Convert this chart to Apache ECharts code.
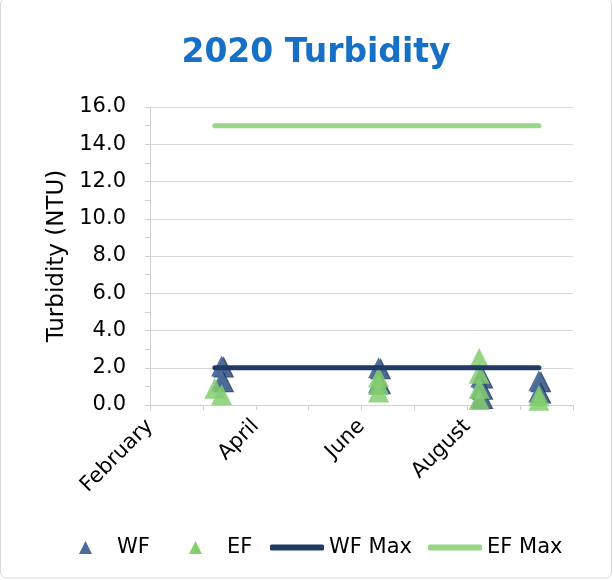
<!DOCTYPE html>
<html>
<head>
<meta charset="utf-8">
<script src="https://cdn.jsdelivr.net/npm/echarts@6/dist/echarts.min.js"></script>
<style>
  html, body { margin: 0; padding: 0; background: #fff; }
  #chart { width: 613px; height: 580px; }
</style>
</head>
<body>
<div id="chart"></div>
<script>
// Sampling dates and turbidity readings (NTU) for 2020
const wfDates  = ['2020-03-14', '2020-03-14', '2020-06-14', '2020-06-14', '2020-08-13', '2020-08-13', '2020-08-13', '2020-09-16', '2020-09-16'];
const wfValues = [2.1, 1.3, 2.0, 1.2, 1.5, 0.9, 0.4, 1.3, 0.7];

const efDates  = ['2020-03-10', '2020-03-14', '2020-06-14', '2020-06-14', '2020-06-14', '2020-08-12', '2020-08-12', '2020-08-12', '2020-08-12', '2020-09-16', '2020-09-16'];
const efValues = [0.9, 0.55, 1.5, 1.1, 0.7, 2.5, 1.7, 0.9, 0.3, 0.5, 0.25];

// Permit limits, drawn across the sampling season
const limitDates = ['2020-03-10', '2020-09-16'];
const wfMax = 2.0;
const efMax = 15.0;

// Axis settings
const axisStart = '2020-02-01';
const dayStep = 31;
const axisSteps = 8;
const yTicks = [0, 2, 4, 6, 8, 10, 12, 14, 16];

const monthNames = ['January', 'February', 'March', 'April', 'May', 'June', 'July',
  'August', 'September', 'October', 'November', 'December'];

function toUTC(s) {
  const p = s.split('-').map(Number);
  return Date.UTC(p[0], p[1] - 1, p[2]);
}
const base = toUTC(axisStart);
function dayOf(s) { return Math.round((toUTC(s) - base) / 86400000); }

const wfPoints = wfDates.map((d, i) => [dayOf(d), wfValues[i]]);
const efPoints = efDates.map((d, i) => [dayOf(d), efValues[i]]);
const wfLine = limitDates.map(d => [dayOf(d), wfMax]);
const efLine = limitDates.map(d => [dayOf(d), efMax]);

const FONT = 'DejaVu Sans';
const wfColor = '#4D6C98';
const efColor = '#84CE70';
const wfLineColor = '#1F3A66';
const efLineColor = '#98D688';

const chart = echarts.init(document.getElementById('chart'), null, { renderer: 'canvas' });

function legendItem(name, icon, left, w, h, pad) {
  return {
    show: true,
    selectedMode: false,
    left: left,
    top: 537,
    orient: 'horizontal',
    padding: 0,
    itemWidth: w,
    itemHeight: h,
    itemGap: 0,
    itemStyle: { borderWidth: 0, shadowBlur: 0, shadowOffsetX: 0, shadowOffsetY: 0, shadowColor: 'transparent', opacity: 1 },
    data: [{ name: name, icon: icon }],
    textStyle: {
      fontFamily: FONT, fontSize: 21, color: '#000', lineHeight: 21,
      padding: [0, 0, 0, pad]
    }
  };
}

chart.setOption({
  backgroundColor: '#fff',
  animation: false,
  title: {
    text: '2020 Turbidity',
    left: 311,
    textAlign: 'center',
    top: 32,
    textStyle: { fontFamily: FONT, fontSize: 33, fontWeight: 'bold', color: '#1570C6' }
  },
  graphic: [{
    type: 'rect',
    shape: { x: 0.5, y: -2, width: 611, height: 580, r: 6 },
    style: { fill: 'none', stroke: '#D9D9D9', lineWidth: 1 },
    silent: true
  }],
  legend: [
    legendItem('WF', 'triangle', 79, 13, 13, 20),
    legendItem('EF', 'triangle', 189, 13, 13, 20),
    legendItem('WF Max', 'roundRect', 270, 54, 6, 0),
    legendItem('EF Max', 'roundRect', 428, 54, 6, 0)
  ],
  grid: { left: 150, right: 40, top: 107, bottom: 175, containLabel: false },
  xAxis: {
    type: 'value',
    min: 0,
    max: dayStep * axisSteps,
    interval: dayStep,
    axisLine: { show: true, lineStyle: { color: '#D0D0D0', width: 1 } },
    axisTick: { show: true, length: 5, lineStyle: { color: '#D0D0D0' } },
    splitLine: { show: false },
    axisLabel: {
      rotate: 45,
      margin: 18,
      fontFamily: FONT,
      fontSize: 21,
      color: '#000',
      showMaxLabel: true,
      formatter: function (v) {
        const idx = Math.round(v / dayStep);
        if (idx % 2 !== 0 || idx >= axisSteps) return '';
        const d = new Date(base + v * 86400000);
        return monthNames[d.getUTCMonth()];
      }
    }
  },
  yAxis: {
    type: 'value',
    min: yTicks[0],
    max: yTicks[yTicks.length - 1],
    interval: yTicks[1] - yTicks[0],
    name: 'Turbidity (NTU)',
    nameLocation: 'middle',
    nameGap: 81,
    nameTextStyle: { fontFamily: FONT, fontSize: 23, color: '#000' },
    axisLine: { show: true, lineStyle: { color: '#D0D0D0', width: 1 } },
    axisTick: { show: true, length: 5, lineStyle: { color: '#D0D0D0' } },
    minorTick: { show: true, splitNumber: 2, length: 5, lineStyle: { color: '#D0D0D0' } },
    splitLine: { show: true, lineStyle: { color: '#D9D9D9', width: 1 } },
    axisLabel: {
      margin: 24,
      fontFamily: FONT,
      fontSize: 21,
      color: '#000',
      formatter: v => v.toFixed(1)
    }
  },
  series: [
    {
      name: 'WF Max',
      type: 'line',
      data: wfLine,
      symbol: 'none',
      color: wfLineColor,
      lineStyle: { color: wfLineColor, width: 5, cap: 'round' }
    },
    {
      name: 'EF Max',
      type: 'line',
      data: efLine,
      symbol: 'none',
      color: efLineColor,
      lineStyle: { color: efLineColor, width: 5, cap: 'round' }
    },
    {
      name: 'WF',
      type: 'scatter',
      data: wfPoints,
      symbol: 'triangle',
      symbolSize: [21, 21],
      color: wfColor,
      itemStyle: {
        color: wfColor, opacity: 0.95,
        shadowColor: 'rgba(28,52,92,0.9)', shadowBlur: 0, shadowOffsetX: 2, shadowOffsetY: 1
      }
    },
    {
      name: 'EF',
      type: 'scatter',
      data: efPoints,
      symbol: 'triangle',
      symbolSize: [21, 21],
      color: efColor,
      itemStyle: { color: efColor, opacity: 0.85 }
    }
  ]
});
</script>
</body>
</html>
